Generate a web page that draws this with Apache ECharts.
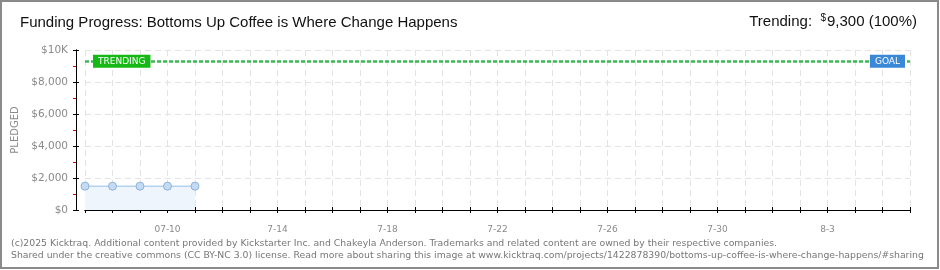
<!DOCTYPE html>
<html>
<head>
<meta charset="utf-8">
<script src="https://cdn.jsdelivr.net/npm/echarts@6/dist/echarts.min.js"></script>
<style>
html,body{margin:0;padding:0;background:#fff;}
#chart{width:940px;height:270px;}
</style>
</head>
<body>
<div id="chart"></div>
<script>
// ---- data ----
var categories = ['07-07','07-08','07-09','07-10','07-11','07-12','07-13','07-14','07-15','07-16',
  '07-17','07-18','07-19','07-20','07-21','07-22','07-23','07-24','07-25','07-26',
  '07-27','07-28','07-29','07-30','07-31','08-01','08-02','08-03','08-04','08-05','08-06'];
var pledgedDates = ['07-07','07-08','07-09','07-10','07-11'];
var pledgedValues = [1490, 1490, 1490, 1490, 1490];
var labelDates = ['07-10','07-14','07-18','07-22','07-26','07-30','08-03'];
var tickLabels = ['07-10','7-14','7-18','7-22','7-26','7-30','8-3'];
var yTickValues = [0, 2000, 4000, 6000, 8000, 10000];
var yTickLabels = ['$0','$2,000','$4,000','$6,000','$8,000','$10K'];
var goalValue = 9300;
var trendingValue = 9300;
var titleText = 'Funding Progress: Bottoms Up Coffee is Where Change Happens';
var trendingText = ['Trending:  ', '$', '9,300 (100%)'];
var footerLines = [
  '(c)2025 Kicktraq. Additional content provided by Kickstarter Inc. and Chakeyla Anderson. Trademarks and related content are owned by their respective companies.',
  'Shared under the creative commons (CC BY-NC 3.0) license. Read more about sharing this image at www.kicktraq.com/projects/1422878390/bottoms-up-coffee-is-where-change-happens/#sharing'
];

var chart = echarts.init(document.getElementById('chart'), null, {renderer:'canvas'});
var gridCol = '#e3e3e3';
var labelCol = '#8a8a8a';

function xLabelFmt(v){ var i = labelDates.indexOf(v); return i >= 0 ? tickLabels[i] : ''; }
function yLabelFmt(v){ var i = yTickValues.indexOf(v); return i >= 0 ? yTickLabels[i] : ''; }

var xBase = {
  type:'category', data:categories, boundaryGap:false, position:'bottom', offset:10,
  axisLine:{show:true, lineStyle:{color:'#000', width:1}}
};

var option = {
  animation:false,
  grid:{left:85, right:30, top:50, bottom:60, containLabel:false},
  xAxis:[
    Object.assign({}, xBase, {
      axisTick:{show:true, interval:0, length:3, inside:false, lineStyle:{color:'#000'}},
      axisLabel:{show:true, interval:0, formatter:xLabelFmt, color:labelCol, fontSize:9, fontFamily:'DejaVu Sans', margin:5},
      splitLine:{show:true, interval:0, lineStyle:{color:gridCol, type:[6,4], width:1}}
    }),
    Object.assign({}, xBase, {
      axisTick:{show:true, interval:0, length:3, inside:true, lineStyle:{color:'#000'}},
      axisLabel:{show:false}, splitLine:{show:false}
    })
  ],
  yAxis:[
    {
      type:'value', min:0, max:10000, interval:2000, position:'left', offset:9,
      name:'PLEDGED', nameLocation:'middle', nameGap:50, nameRotate:90,
      nameTextStyle:{color:labelCol, fontSize:10, fontFamily:'DejaVu Sans'},
      axisLine:{show:true, lineStyle:{color:'#000', width:1}},
      axisTick:{show:true, length:3, inside:false, lineStyle:{color:'#000'}},
      minorTick:{show:true, splitNumber:2, length:3, lineStyle:{color:'#e00000', width:1}},
      axisLabel:{formatter:yLabelFmt, color:labelCol, fontSize:10.5, fontFamily:'DejaVu Sans', margin:8},
      splitLine:{show:true, lineStyle:{color:gridCol, type:[6,4], width:1}}
    },
    {
      type:'value', min:0, max:10000, interval:2000, position:'left', offset:9,
      axisLine:{show:true, lineStyle:{color:'#000', width:1}},
      axisTick:{show:true, length:3, inside:true, lineStyle:{color:'#000'}},
      axisLabel:{show:false}, splitLine:{show:false}
    }
  ],
  series:[
    {
      type:'line', xAxisIndex:0, yAxisIndex:0,
      data:pledgedDates.map(function(d,i){ return [d, pledgedValues[i]]; }),
      symbol:'circle', symbolSize:8,
      itemStyle:{color:'#c4dbf5', borderColor:'#8fb1db', borderWidth:1},
      lineStyle:{color:'#b5d1f0', width:1.5},
      areaStyle:{color:'#eef5fd', opacity:1},
      z:3
    },
    {
      type:'line', xAxisIndex:0, yAxisIndex:0, data:[], silent:true,
      markLine:{
        silent:true, symbol:['none','none'],
        label:{show:false},
        lineStyle:{color:'#3cb856', type:[4,2], width:2.5},
        data:[{yAxis:goalValue}]
      },
      markPoint:{
        silent:true, symbol:'rect', symbolSize:0,
        data:[
          {coord:[categories[0], trendingValue],
           label:{show:true, position:'right', distance:8, formatter:'TRENDING',
             color:'#fff', fontSize:9, fontFamily:'DejaVu Sans', backgroundColor:'#16b816', padding:[2,5,2,5]}},
          {coord:[categories[categories.length-1], goalValue],
           label:{show:true, position:'left', distance:5, formatter:'GOAL',
             color:'#fff', fontSize:9, fontFamily:'DejaVu Sans', backgroundColor:'#3b88d8', padding:[2,5,2,5]}}
        ]
      },
      z:5
    }
  ],
  graphic:[
    {type:'rect', shape:{x:1, y:1, width:937, height:267}, style:{fill:'none', stroke:'#8a8a8a', lineWidth:2}, z:100},
    {type:'text', left:20, top:15, style:{text:titleText, fill:'#111', font:'15px "Liberation Sans"'}},
    {type:'text', right:23, top:13, style:{
      text:'{a|' + trendingText[0] + '}{s|' + trendingText[1] + '}{a|' + trendingText[2] + '}',
      rich:{
        a:{fill:'#111', fontSize:15, fontFamily:'Liberation Sans', verticalAlign:'bottom'},
        s:{fill:'#111', fontSize:10, fontFamily:'Liberation Sans', verticalAlign:'top', padding:[0,1,6,0]}
      }}},
    {type:'text', left:11, top:239, style:{text:footerLines[0], fill:'#777', font:'9.3px "DejaVu Sans"'}},
    {type:'text', left:11, top:251, style:{text:footerLines[1], fill:'#777', font:'9.3px "DejaVu Sans"'}}
  ]
};
chart.setOption(option);
</script>
</body>
</html>
